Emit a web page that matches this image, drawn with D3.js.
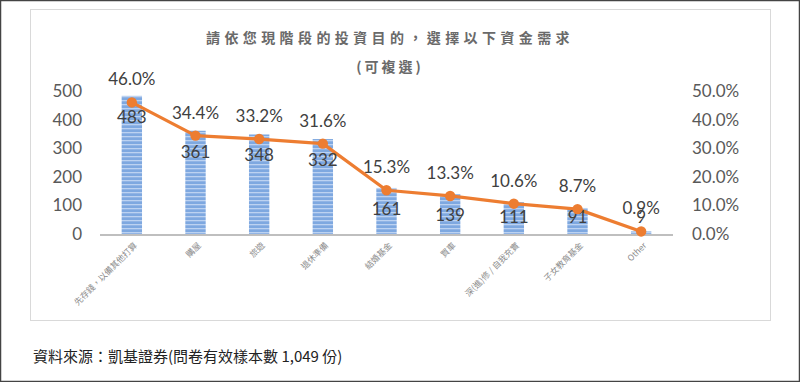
<!DOCTYPE html>
<html><head><meta charset="utf-8">
<script src="https://cdn.jsdelivr.net/npm/d3@7"></script>
<style>body{margin:0;background:#fff}svg{display:block}</style>
</head><body>
<svg id="c" width="800" height="382"></svg>
<script>
const categories = ["先存錢，以備其他打算","購屋","旅遊","退休準備","結婚基金","買車","深(進)修 / 自我充實","子女教育基金","Other"];
const counts = [483,361,348,332,161,139,111,91,9];
const percents = [46.0,34.4,33.2,31.6,15.3,13.3,10.6,8.7,0.9];
const leftTicks = [0,100,200,300,400,500];
const rightTicks = [0,10,20,30,40,50];

const svg = d3.select("#c");
const font = "Lato, 'Noto Sans', sans-serif";
const cjk = "'Noto Sans CJK TC', 'Noto Sans CJK SC', sans-serif";

// frames
svg.append("rect").attr("x",0.5).attr("y",0.5).attr("width",799).attr("height",381)
  .attr("fill","#fff").attr("stroke","#444").attr("stroke-width",1.5);
svg.append("rect").attr("x",30.5).attr("y",9.5).attr("width",740).attr("height",311)
  .attr("fill","#fff").attr("stroke","#d9d9d9").attr("stroke-width",1);

// stripe pattern for bars
const defs = svg.append("defs");
const pat = defs.append("pattern").attr("id","stripe").attr("patternUnits","userSpaceOnUse")
  .attr("width",20).attr("height",4);
pat.append("rect").attr("width",20).attr("height",4).attr("fill","#7ea8e0");
pat.append("rect").attr("y",0).attr("width",20).attr("height",1.3).attr("fill","#bcd2f1");

const x = d3.scaleBand().domain(categories).range([100,673]).paddingInner(0.68).paddingOuter(0.34);
const yL = d3.scaleLinear().domain([0,500]).range([234,91]);
const yR = d3.scaleLinear().domain([0,50]).range([234,91]);

// title
svg.append("text").attr("x",390).attr("y",43).attr("text-anchor","middle")
  .attr("font-family",cjk).attr("font-size",14).attr("font-weight",700).attr("letter-spacing",4.4)
  .attr("fill","#6a6a6a").text("請依您現階段的投資目的，選擇以下資金需求");
svg.append("text").attr("x",390).attr("y",72).attr("text-anchor","middle")
  .attr("font-family",cjk).attr("font-size",14).attr("font-weight",700).attr("letter-spacing",3)
  .attr("fill","#6a6a6a").text("(可複選)");

// axes
const axL = svg.append("g").attr("transform","translate(86,0)")
  .call(d3.axisLeft(yL).tickValues(leftTicks).tickSize(0).tickPadding(4));
axL.select(".domain").remove();
axL.selectAll("text").attr("font-family",font).attr("font-size",17).attr("fill","#595959");
const axR = svg.append("g").attr("transform","translate(688,0)")
  .call(d3.axisRight(yR).tickValues(rightTicks).tickSize(0).tickPadding(4).tickFormat(d=>d.toFixed(1)+"%"));
axR.select(".domain").remove();
axR.selectAll("text").attr("font-family",font).attr("font-size",17).attr("fill","#595959");

// bars
svg.append("g").selectAll("rect").data(categories).join("rect")
  .attr("x",d=>x(d)).attr("width",x.bandwidth())
  .attr("y",(d,i)=>yL(counts[i])).attr("height",(d,i)=>yL(0)-yL(counts[i]))
  .attr("fill","url(#stripe)");

// baseline
svg.append("line").attr("x1",100).attr("x2",673).attr("y1",yL(0)+1).attr("y2",yL(0)+1)
  .attr("stroke","#bfbfbf").attr("stroke-width",2);

// x labels
svg.append("g").selectAll("text").data(categories).join("text")
  .attr("transform",d=>`translate(${x(d)+x.bandwidth()/2+6},${yL(0)+12}) rotate(-45)`)
  .attr("text-anchor","end").attr("font-family",cjk).attr("font-size",8.5)
  .attr("fill","#8c8c8c").text(d=>d);

// line
const cx = d=>x(d)+x.bandwidth()/2;
const line = d3.line().x((d,i)=>cx(categories[i])).y(d=>yR(d));
svg.append("path").datum(percents).attr("d",line).attr("fill","none")
  .attr("stroke","#ed7d31").attr("stroke-width",3.2).attr("stroke-linejoin","round");

// value labels (bars)
svg.append("g").selectAll("text").data(categories).join("text")
  .attr("x",d=>cx(d)).attr("y",(d,i)=>Math.min(yL(counts[i])+21,217)+6)
  .attr("text-anchor","middle").attr("font-family",font).attr("font-size",17)
  .attr("fill","#404040").text((d,i)=>counts[i]);

// markers
svg.append("g").selectAll("circle").data(percents).join("circle")
  .attr("cx",(d,i)=>cx(categories[i])).attr("cy",d=>yR(d)).attr("r",5.2)
  .attr("fill","#ed7d31");

// percent labels
svg.append("g").selectAll("text").data(percents).join("text")
  .attr("x",(d,i)=>cx(categories[i])).attr("y",d=>yR(d)-23+6)
  .attr("text-anchor","middle").attr("font-family",font).attr("font-size",17)
  .attr("fill","#404040").text(d=>d.toFixed(1)+"%");

// footer
svg.append("text").attr("x",33).attr("y",362)
  .attr("font-family",cjk).attr("font-size",15).attr("fill","#222")
  .text("資料來源：凱基證券(問卷有效樣本數 1,049 份)");
</script>
</body></html>
